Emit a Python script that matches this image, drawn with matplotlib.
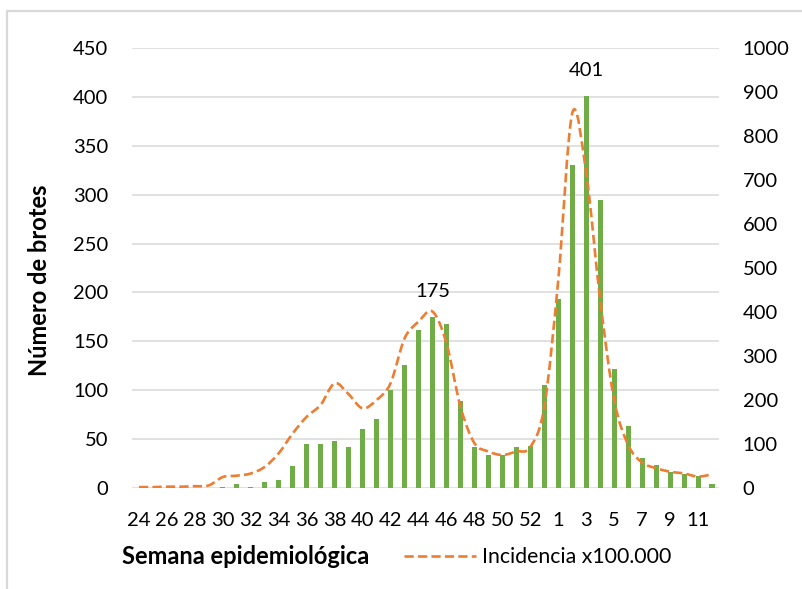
import matplotlib.pyplot as plt
from matplotlib.path import Path
from matplotlib.patches import PathPatch, Rectangle
from matplotlib.lines import Line2D

plt.rcParams['font.family'] = ['Lato', 'DejaVu Sans']

# semanas epidemiológicas (2020: semanas 24-53, 2021: semanas 1-12)
semanas = list(range(24, 54)) + list(range(1, 13))
brotes = [0, 0, 0, 0, 0, 0, 1, 4, 1, 6, 8, 22, 45, 45, 48, 42, 60, 71, 100, 126,
          162, 175, 168, 89, 42, 34, 34, 42, 43, 105,
          193, 330, 401, 295, 122, 63, 31, 24, 16, 14, 12, 4]
incidencia = [2, 2, 3, 3, 4, 6, 25, 28, 33, 48, 79, 124, 162, 189, 238, 213, 181, 200, 238, 340,
              378, 401, 329, 185, 102, 83, 75, 83, 93, 185,
              473, 852, 715, 427, 200, 98, 58, 45, 37, 33, 26, 31]
etiquetas = [str(s) for s in semanas]
picos = {21: 175, 32: 401}

VERDE = '#70AD47'
NARANJA = '#ED7D31'
GRIS = '#D9D9D9'


def curva_suave(xs, ys):
    # curva tipo Excel "línea suavizada" (Catmull-Rom -> Bezier)
    n = len(xs)
    verts = [(xs[0], ys[0])]
    codes = [Path.MOVETO]
    for i in range(n - 1):
        x0, y0 = (xs[i - 1], ys[i - 1]) if i > 0 else (xs[i], ys[i])
        x1, y1 = xs[i], ys[i]
        x2, y2 = xs[i + 1], ys[i + 1]
        x3, y3 = (xs[i + 2], ys[i + 2]) if i + 2 < n else (x2, y2)
        c1 = (x1 + (x2 - x0) / 6, y1 + (y2 - y0) / 6)
        c2 = (x2 - (x3 - x1) / 6, y2 - (y3 - y1) / 6)
        verts += [c1, c2, (x2, y2)]
        codes += [Path.CURVE4] * 3
    return Path(verts, codes)


fig = plt.figure(figsize=(8.02, 5.89), dpi=100)
ax1 = fig.add_axes([132 / 802, 1 - 488 / 589, 587 / 802, 440 / 589])
x = list(range(len(semanas)))

ax1.bar(x, brotes, width=0.36, color=VERDE, zorder=2)
for i, v in picos.items():
    ax1.annotate(str(v), (i, v), xytext=(0, 18), textcoords='offset points',
                 ha='center', va='center', fontsize=14.5)

ax1.set_xlim(-0.5, len(x) - 0.5)
ax1.set_ylim(0, 450)
ax1.set_yticks(range(0, 451, 50))
ax1.set_xticks(x[::2])
ax1.set_xticklabels(etiquetas[::2])
ax1.grid(axis='y', color=GRIS, linewidth=1.1, zorder=0)
ax1.set_axisbelow(True)
for s in ax1.spines.values():
    s.set_visible(False)
ax1.tick_params(axis='both', length=0, labelsize=14.5, colors='black')
ax1.tick_params(axis='y', pad=17)
ax1.tick_params(axis='x', pad=17)

ax2 = ax1.twinx()
ax2.set_ylim(0, 1000)
ax2.set_yticks(range(0, 1001, 100))
for s in ax2.spines.values():
    s.set_visible(False)
ax2.tick_params(axis='y', length=0, labelsize=14.5, pad=17, colors='black')

estilo = (0, (3.5, 1.6))
ax2.add_patch(PathPatch(curva_suave(x, incidencia), fill=False, edgecolor=NARANJA,
                        linewidth=1.9, linestyle=estilo, capstyle='butt', zorder=3))

fig.text(40 / 802, 1 - 280 / 589, 'Número de brotes', rotation=90, ha='center', va='center',
         fontsize=17, fontweight='bold')
fig.text(246 / 802, 1 - 557 / 589, 'Semana epidemiológica', ha='center', va='center',
         fontsize=17, fontweight='bold')

mango = Line2D([], [], color=NARANJA, linewidth=1.9, linestyle=estilo)
fig.legend([mango], ['Incidencia x100.000'], loc='center left',
           bbox_to_anchor=(404 / 802, 1 - 557 / 589), frameon=False, fontsize=15.3,
           handlelength=3.4, handletextpad=0.25, borderpad=0, borderaxespad=0)

fig.patches.append(Rectangle((7 / 802, -0.1), 1.2, 1 - 11 / 589 + 0.1, transform=fig.transFigure,
                             fill=False, edgecolor=GRIS, linewidth=1.6))

fig.savefig('out.png', dpi=100)
